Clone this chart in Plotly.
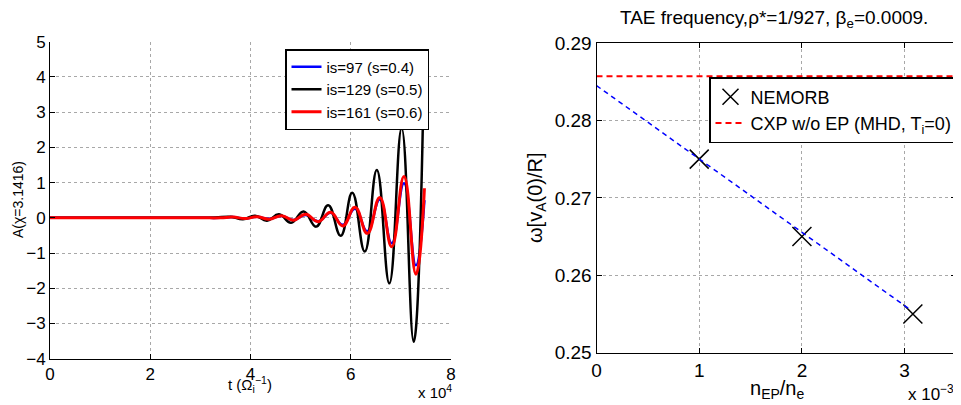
import plotly.graph_objects as go

W, H = 961, 405
FONT = "Liberation Sans, Arial, sans-serif"
OFF = 8  # default page body margin offsets the figure in the browser

# ---------------- Left panel data (t in units of 1e4 / Omega_i) ----------------
t_is97 = [0, 1.0, 2.0, 3.0, 3.4, 3.65, 3.9, 4.13, 4.37, 4.62, 4.86, 5.10, 5.35,
          5.60, 5.84, 6.085, 6.33, 6.58, 6.817, 7.062, 7.30, 7.47]
a_is97 = [0, 0, 0, 0, 0, 0.02, -0.02, 0.03, -0.03, 0.05, -0.06, 0.08, -0.10,
          0.14, -0.20, 0.26, -0.38, 0.52, -0.72, 0.98, -1.35, 0.50]

t_is129 = [0, 0.5, 1.0, 1.5, 2.0, 2.5, 3.0, 3.3, 3.6, 3.85, 4.09, 4.33, 4.57,
           4.81, 5.06, 5.31, 5.55, 5.80, 6.03, 6.28, 6.52, 6.77, 7.015, 7.255, 7.46]
a_is129 = [0, 0, 0, 0, 0, 0, 0, 0.01, 0.03, -0.04, 0.06, -0.08, 0.10,
           -0.14, 0.18, -0.25, 0.36, -0.51, 0.71, -0.96, 1.36, -1.86, 2.54, -3.52, 4.18]

t_is161 = [0, 1.0, 2.0, 3.0, 3.4, 3.65, 3.9, 4.13, 4.37, 4.62, 4.86, 5.10, 5.35,
           5.60, 5.84, 6.085, 6.33, 6.58, 6.817, 7.062, 7.30, 7.47]
a_is161 = [0, 0, 0, 0, 0, 0.02, -0.02, 0.03, -0.04, 0.06, -0.07, 0.10, -0.11,
           0.16, -0.23, 0.30, -0.44, 0.58, -0.82, 1.17, -1.60, 0.84]

left_xticks = [0, 2, 4, 6, 8]
left_yticks = [-4, -3, -2, -1, 0, 1, 2, 3, 4, 5]

# ---------------- Right panel data (n_EP/n_e in units of 1e-3) ----------------
nep = [1.0, 2.0, 3.08]
omega_nemorb = [0.275, 0.265, 0.255]
fit_x = [0.0, 3.05]
fit_y = [0.2845, 0.2556]
cxp_x = [0.0, 3.5]
cxp_y = [0.2857, 0.2857]

right_xticks = [0, 1, 2, 3]
right_yticks = [0.25, 0.26, 0.27, 0.28, 0.29]

# ---------------- Layout geometry (pixels in the final screenshot) ----------------
def px_x(p):
    return (p - OFF) / W

def px_y(p):
    return 1 - (p - OFF) / H

L_x0, L_x1, L_y0, L_y1 = 50, 451, 41.7, 358.7
R_x0, R_x1, R_y0, R_y1 = 596.5, 956, 43, 352.7

fig = go.Figure()

spl = dict(shape="spline", smoothing=1.3)
# left traces
fig.add_trace(go.Scatter(x=[v * 1e4 for v in t_is97], y=a_is97, mode="lines",
                         name="is=97 (s=0.4)", line=dict(color="#0000ff", width=2.5, **spl),
                         xaxis="x", yaxis="y", legend="legend"))
fig.add_trace(go.Scatter(x=[v * 1e4 for v in t_is129], y=a_is129, mode="lines",
                         name="is=129 (s=0.5)", line=dict(color="#000000", width=2.5, **spl),
                         xaxis="x", yaxis="y", legend="legend"))
fig.add_trace(go.Scatter(x=[v * 1e4 for v in t_is161], y=a_is161, mode="lines",
                         name="is=161 (s=0.6)", line=dict(color="#ff0000", width=3, **spl),
                         xaxis="x", yaxis="y", legend="legend"))

# right traces
fig.add_trace(go.Scatter(x=[v * 1e-3 for v in nep], y=omega_nemorb, mode="markers",
                         name="NEMORB",
                         marker=dict(symbol="x-thin", size=19, color="black",
                                     line=dict(color="black", width=1.5)),
                         xaxis="x2", yaxis="y2", legend="legend2"))
fig.add_trace(go.Scatter(x=[v * 1e-3 for v in cxp_x], y=cxp_y, mode="lines",
                         name="CXP w/o EP (MHD, T<sub>i</sub>=0)",
                         line=dict(color="#ff0000", width=2, dash="6px,4px"),
                         xaxis="x2", yaxis="y2", legend="legend2"))
fig.add_trace(go.Scatter(x=[v * 1e-3 for v in fit_x], y=fit_y, mode="lines",
                         showlegend=False,
                         line=dict(color="#0000ff", width=1.5, dash="5px,4px"),
                         xaxis="x2", yaxis="y2"))

grid = dict(showgrid=True, gridcolor="#a8a8a8", griddash="dot", gridwidth=1,
            zeroline=False, ticks="inside", ticklen=5, tickcolor="black",
            showline=True, linecolor="black", linewidth=1, automargin=False)

fig.update_layout(
    width=W, height=H,
    margin=dict(l=0, r=0, t=0, b=0, pad=0, autoexpand=False),
    paper_bgcolor="white", plot_bgcolor="white",
    font=dict(family=FONT, size=16, color="black"),
    xaxis=dict(domain=[px_x(L_x0), px_x(L_x1)], range=[0, 8e4], anchor="y",
               tickvals=[v * 1e4 for v in left_xticks], ticktext=[str(v) for v in left_xticks],
               mirror=False, tickfont=dict(size=17), **grid),
    yaxis=dict(domain=[px_y(L_y1), px_y(L_y0)], range=[-4, 5], anchor="x",
               tickvals=left_yticks, ticktext=[str(v).replace("-", "\u2212") for v in left_yticks],
               mirror=False, tickfont=dict(size=17), **grid),
    xaxis2=dict(domain=[px_x(R_x0), px_x(R_x1)], range=[0, 3.5e-3], anchor="y2",
                tickvals=[v * 1e-3 for v in right_xticks], ticktext=[str(v) for v in right_xticks],
                mirror="ticks", tickfont=dict(size=19), **grid),
    yaxis2=dict(domain=[px_y(R_y1), px_y(R_y0)], range=[0.25, 0.29], anchor="x2",
                tickvals=right_yticks, ticktext=["%.2f" % v for v in right_yticks],
                mirror="ticks", tickfont=dict(size=19), **grid),
    legend=dict(x=px_x(285), y=px_y(49), xanchor="left", yanchor="top",
                bgcolor="white", bordercolor="black", borderwidth=1.5,
                font=dict(size=15), tracegroupgap=0, itemwidth=30),
    legend2=dict(x=px_x(709), y=px_y(77), xanchor="left", yanchor="top",
                 bgcolor="white", bordercolor="black", borderwidth=1.5,
                 font=dict(size=18), itemwidth=30),
    showlegend=True,
)

ann = [
    dict(text="A(\u03c7=3.1416)", x=px_x(18), y=px_y(200), textangle=-90, font=dict(size=14)),
    dict(text="t (\u03a9<sub>i</sub><sup>\u22121</sup>)", x=px_x(250), y=px_y(384), font=dict(size=15)),
    dict(text="x 10<sup>4</sup>", x=px_x(435), y=px_y(391), font=dict(size=15)),
    dict(text="TAE frequency,\u03c1*=1/927, \u03b2<sub>e</sub>=0.0009.", x=px_x(774), y=px_y(19), font=dict(size=19)),
    dict(text="\u03c9[v<sub>A</sub>(0)/R]", x=px_x(536), y=px_y(198), textangle=-90, font=dict(size=20)),
    dict(text="n<sub>EP</sub>/n<sub>e</sub>", x=px_x(777), y=px_y(389), font=dict(size=20)),
    dict(text="x 10<sup>\u22123</sup>", x=px_x(906), y=px_y(393), xanchor="left", font=dict(size=17)),
]
for a in ann:
    a.setdefault("xanchor", "center")
    a.update(xref="paper", yref="paper", showarrow=False, yanchor="middle")
fig.update_layout(annotations=ann)

fig.write_html("out.html")
